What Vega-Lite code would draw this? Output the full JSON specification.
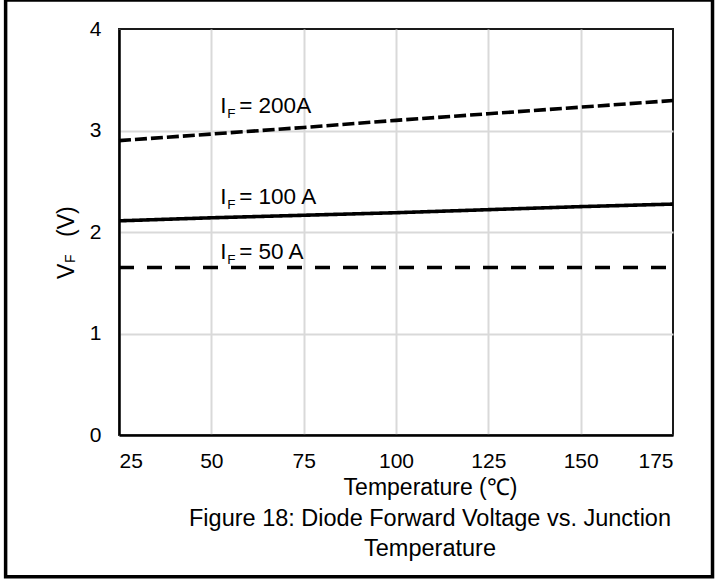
{
  "$schema": "https://vega.github.io/schema/vega-lite/v6.json",
  "width": 554,
  "height": 406,
  "autosize": {"type": "none"},
  "padding": {"left": 119, "top": 29, "right": 47, "bottom": 148},
  "background": "white",
  "config": {
    "font": "Liberation Sans",
    "view": {"stroke": "#1a1a1a", "strokeWidth": 2}
  },
  "title": {
    "text": ["Figure 18: Diode Forward Voltage vs. Junction", "Temperature"],
    "orient": "bottom",
    "anchor": "middle",
    "dx": 34,
    "offset": -52,
    "baseline": "alphabetic",
    "fontSize": 23.5,
    "fontWeight": "normal",
    "color": "black",
    "lineHeight": 30
  },
  "datasets": {
    "curves": [
      {"series": "200A", "temp": 25, "vf": 2.9},
      {"series": "200A", "temp": 50, "vf": 2.965},
      {"series": "200A", "temp": 75, "vf": 3.03},
      {"series": "200A", "temp": 100, "vf": 3.1},
      {"series": "200A", "temp": 125, "vf": 3.165},
      {"series": "200A", "temp": 150, "vf": 3.23},
      {"series": "200A", "temp": 175, "vf": 3.295},
      {"series": "100A", "temp": 25, "vf": 2.11},
      {"series": "100A", "temp": 50, "vf": 2.14},
      {"series": "100A", "temp": 75, "vf": 2.165},
      {"series": "100A", "temp": 100, "vf": 2.19},
      {"series": "100A", "temp": 125, "vf": 2.22},
      {"series": "100A", "temp": 150, "vf": 2.25},
      {"series": "100A", "temp": 175, "vf": 2.275},
      {"series": "50A", "temp": 25, "vf": 1.65},
      {"series": "50A", "temp": 50, "vf": 1.65},
      {"series": "50A", "temp": 75, "vf": 1.65},
      {"series": "50A", "temp": 100, "vf": 1.65},
      {"series": "50A", "temp": 125, "vf": 1.65},
      {"series": "50A", "temp": 150, "vf": 1.65},
      {"series": "50A", "temp": 175, "vf": 1.65}
    ]
  },
  "layer": [
    {
      "data": {"name": "curves"},
      "mark": {"type": "line", "color": "black", "strokeWidth": 3.6, "strokeCap": "butt"},
      "encoding": {
        "x": {
          "field": "temp",
          "type": "quantitative",
          "scale": {"domain": [25, 175], "nice": false, "zero": false},
          "axis": {
            "values": [25, 50, 75, 100, 125, 150, 175],
            "format": "d",
            "grid": true,
            "gridColor": "#d9d9d9",
            "gridWidth": 2,
            "gridOpacity": {"condition": {"test": "datum.value >= 175", "value": 0}, "value": 1},
            "domainColor": "black",
            "domainWidth": 2.5,
            "ticks": false,
            "tickSize": 0,
            "labelFontSize": 21,
            "labelColor": "black",
            "labelBaseline": "alphabetic",
            "labelPadding": 32,
            "title": "Temperature (℃)",
            "titleFontSize": 23,
            "titleFontWeight": "normal",
            "titleColor": "black",
            "titleX": 311,
            "titleY": 59,
            "titleBaseline": "alphabetic",
            "titleAlign": "center"
          }
        },
        "y": {
          "field": "vf",
          "type": "quantitative",
          "scale": {"domain": [0, 4], "nice": false, "zero": false},
          "axis": {
            "values": [0, 1, 2, 3, 4],
            "format": "d",
            "grid": true,
            "gridColor": "#d9d9d9",
            "gridWidth": 2,
            "gridOpacity": {"condition": {"test": "datum.value >= 4", "value": 0}, "value": 1},
            "domainColor": "black",
            "domainWidth": 2.5,
            "ticks": false,
            "tickSize": 0,
            "labelFontSize": 21,
            "labelColor": "black",
            "labelPadding": 18,
            "labelBaseline": "middle",
            "title": null
          }
        },
        "detail": {"field": "series", "type": "nominal"},
        "strokeDash": {
          "field": "series",
          "type": "nominal",
          "scale": {"domain": ["200A", "100A", "50A"], "range": [[12, 4], [1, 0], [15, 13]]},
          "legend": null
        }
      }
    },
    {
      "data": {"values": [{}]},
      "mark": {"type": "text", "fontSize": 22.5, "color": "black", "align": "left", "baseline": "alphabetic"},
      "encoding": {"x": {"datum": 52.4, "type": "quantitative"}, "y": {"datum": 3.169, "type": "quantitative"}, "text": {"value": "I"}}
    },
    {
      "data": {"values": [{}]},
      "mark": {"type": "text", "fontSize": 13.5, "color": "black", "align": "left", "baseline": "alphabetic", "dx": 7, "dy": 5},
      "encoding": {"x": {"datum": 52.4, "type": "quantitative"}, "y": {"datum": 3.169, "type": "quantitative"}, "text": {"value": "F"}}
    },
    {
      "data": {"values": [{}]},
      "mark": {"type": "text", "fontSize": 22.5, "color": "black", "align": "left", "baseline": "alphabetic", "dx": 19},
      "encoding": {"x": {"datum": 52.4, "type": "quantitative"}, "y": {"datum": 3.169, "type": "quantitative"}, "text": {"value": "= 200A"}}
    },
    {
      "data": {"values": [{}]},
      "mark": {"type": "text", "fontSize": 22.5, "color": "black", "align": "left", "baseline": "alphabetic"},
      "encoding": {"x": {"datum": 52.4, "type": "quantitative"}, "y": {"datum": 2.276, "type": "quantitative"}, "text": {"value": "I"}}
    },
    {
      "data": {"values": [{}]},
      "mark": {"type": "text", "fontSize": 13.5, "color": "black", "align": "left", "baseline": "alphabetic", "dx": 7, "dy": 5},
      "encoding": {"x": {"datum": 52.4, "type": "quantitative"}, "y": {"datum": 2.276, "type": "quantitative"}, "text": {"value": "F"}}
    },
    {
      "data": {"values": [{}]},
      "mark": {"type": "text", "fontSize": 22.5, "color": "black", "align": "left", "baseline": "alphabetic", "dx": 19},
      "encoding": {"x": {"datum": 52.4, "type": "quantitative"}, "y": {"datum": 2.276, "type": "quantitative"}, "text": {"value": "= 100 A"}}
    },
    {
      "data": {"values": [{}]},
      "mark": {"type": "text", "fontSize": 22.5, "color": "black", "align": "left", "baseline": "alphabetic"},
      "encoding": {"x": {"datum": 52.4, "type": "quantitative"}, "y": {"datum": 1.734, "type": "quantitative"}, "text": {"value": "I"}}
    },
    {
      "data": {"values": [{}]},
      "mark": {"type": "text", "fontSize": 13.5, "color": "black", "align": "left", "baseline": "alphabetic", "dx": 7, "dy": 5},
      "encoding": {"x": {"datum": 52.4, "type": "quantitative"}, "y": {"datum": 1.734, "type": "quantitative"}, "text": {"value": "F"}}
    },
    {
      "data": {"values": [{}]},
      "mark": {"type": "text", "fontSize": 22.5, "color": "black", "align": "left", "baseline": "alphabetic", "dx": 19},
      "encoding": {"x": {"datum": 52.4, "type": "quantitative"}, "y": {"datum": 1.734, "type": "quantitative"}, "text": {"value": "= 50 A"}}
    },
    {
      "data": {"values": [{}]},
      "mark": {"type": "text", "fontSize": 23, "color": "black", "align": "left", "baseline": "alphabetic", "angle": 270, "dy": -45},
      "encoding": {"x": {"datum": 25, "type": "quantitative"}, "y": {"datum": 1.537, "type": "quantitative"}, "text": {"value": "V"}}
    },
    {
      "data": {"values": [{}]},
      "mark": {"type": "text", "fontSize": 14, "color": "black", "align": "left", "baseline": "alphabetic", "angle": 270, "dx": 16, "dy": -44},
      "encoding": {"x": {"datum": 25, "type": "quantitative"}, "y": {"datum": 1.537, "type": "quantitative"}, "text": {"value": "F"}}
    },
    {
      "data": {"values": [{}]},
      "mark": {"type": "text", "fontSize": 23, "color": "black", "align": "left", "baseline": "alphabetic", "angle": 270, "dx": 42, "dy": -45},
      "encoding": {"x": {"datum": 25, "type": "quantitative"}, "y": {"datum": 1.537, "type": "quantitative"}, "text": {"value": "(V)"}}
    },
    {
      "data": {"values": [{}]},
      "mark": {"type": "rect", "filled": false, "stroke": "black", "strokeWidth": 3.5},
      "encoding": {
        "x": {"datum": -5.7, "type": "quantitative"},
        "x2": {"datum": 185.7},
        "y": {"datum": 4.286, "type": "quantitative"},
        "y2": {"datum": -1.396}
      }
    }
  ]
}
